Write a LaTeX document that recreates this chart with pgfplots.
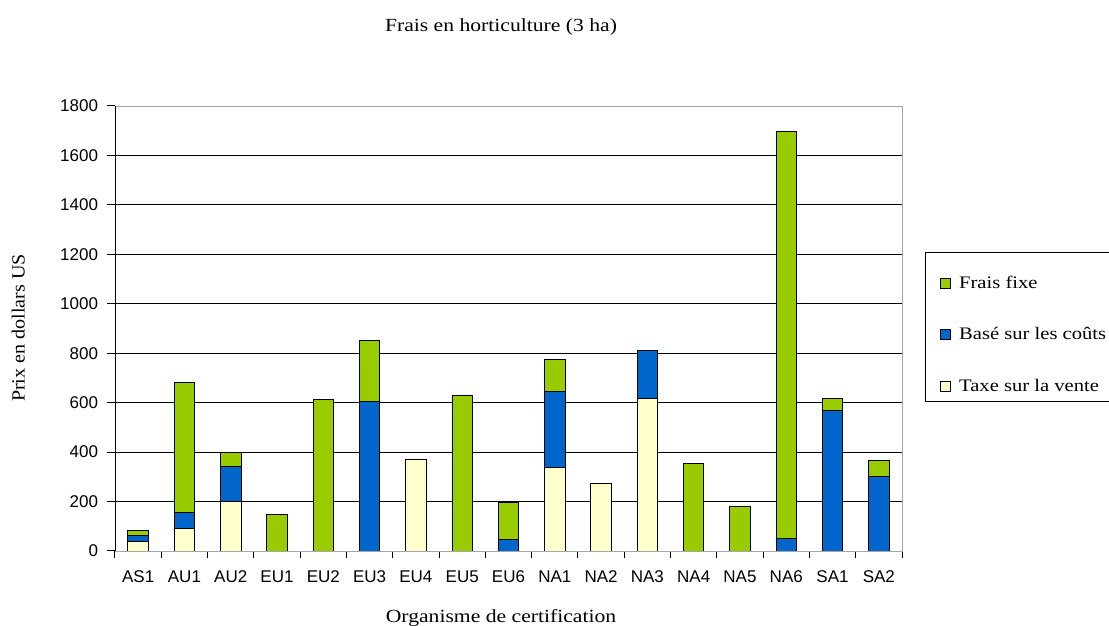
\documentclass[border=0pt]{standalone}
\usepackage{pgfplots}
\pgfplotsset{compat=1.18}
\usepackage{fontspec}
\setmainfont{Liberation Serif}
\newfontfamily\wideserif[FakeStretch=1.17]{Liberation Serif}
\newfontfamily\ylabserif[FakeStretch=1.08]{Liberation Serif}
\newfontfamily\arialfont{Liberation Sans}
\definecolor{cfixe}{HTML}{99CC00}
\definecolor{cbase}{HTML}{0066CC}
\definecolor{ctaxe}{HTML}{FFFFCC}
\begin{document}
\begin{tikzpicture}
\begin{axis}[
  at={(0pt,0pt)}, anchor=south west,
  scale only axis, width=787pt, height=445pt,
  ybar stacked, bar width=20.5pt,
  xmin=-0.5, xmax=16.5, ymin=0, ymax=1800,
  ytick={0,200,...,1800},
  xtick={-0.5,0.5,...,16.5},
  x tick label as interval,
  xticklabels={AS1,AU1,AU2,EU1,EU2,EU3,EU4,EU5,EU6,NA1,NA2,NA3,NA4,NA5,NA6,SA1,SA2},
  xtick pos=bottom, ytick pos=left,
  major tick length=7.5pt,
  tick align=outside,
  tick style={black, line width=1pt},
  ymajorgrids, grid style={black, line width=0.9pt},
  axis line style={gray!70, line width=0.9pt},
  /pgf/number format/assume math mode=true,
  /pgf/number format/1000 sep={},
  tick label style={font=\arialfont\fontsize{17}{17}\selectfont},
  yticklabel style={xshift=-6pt},
  xticklabel style={yshift=-9pt},
  title={Frais en horticulture (3 ha)},
  title style={at={(0.4905,1.164)}, anchor=center, font=\wideserif\fontsize{18.5}{20}\selectfont},
  xlabel={Organisme de certification},
  xlabel style={at={(0.4905,-0.151)}, anchor=center, font=\wideserif\fontsize{18.5}{20}\selectfont},
  ylabel={Prix en dollars US},
  ylabel style={at={(-0.123,0.501)}, anchor=center, rotate=0, font=\ylabserif\fontsize{18.6}{20}\selectfont},
  reverse legend,
  legend image code/.code={\draw[#1, draw=black, line width=0.9pt] (0pt,-13pt) rectangle (10pt,-3pt); \path (16pt,0pt);},
  legend style={at={(1.029,0.672)}, anchor=north west, draw=black, line width=0.9pt,
     font=\wideserif\fontsize{17.6}{19}\selectfont, row sep=13.5pt, inner xsep=15pt, inner ysep=4pt,
     nodes={text height=30pt, text depth=4pt},
     legend cell align=left},
  every axis plot/.append style={draw=black, line width=0.9pt},
]
\addplot[fill=ctaxe] coordinates {(0,37) (1,93) (2,200) (3,0) (4,0) (5,0) (6,370) (7,0) (8,0) (9,337) (10,272) (11,618) (12,0) (13,0) (14,0) (15,0) (16,0)};
\addlegendentry{Taxe sur la vente}
\addplot[fill=cbase] coordinates {(0,27) (1,63) (2,144) (3,0) (4,0) (5,603) (6,0) (7,0) (8,46) (9,308) (10,0) (11,195) (12,0) (13,0) (14,49) (15,570) (16,301)};
\addlegendentry{Basé sur les coûts}
\addplot[fill=cfixe] coordinates {(0,19) (1,527) (2,56) (3,147) (4,614) (5,248) (6,0) (7,631) (8,151) (9,128) (10,0) (11,0) (12,355) (13,180) (14,1648) (15,48) (16,67)};
\addlegendentry{Frais fixe}
\draw[black, line width=0.9pt] (rel axis cs:0,0) -- (rel axis cs:0,1);
\draw[black, line width=0.9pt] (rel axis cs:0,0) -- (rel axis cs:1,0);
\end{axis}
\pgfresetboundingbox
\path[use as bounding box] (-115pt,-75pt) rectangle (994pt,551pt);
\end{tikzpicture}
\end{document}
